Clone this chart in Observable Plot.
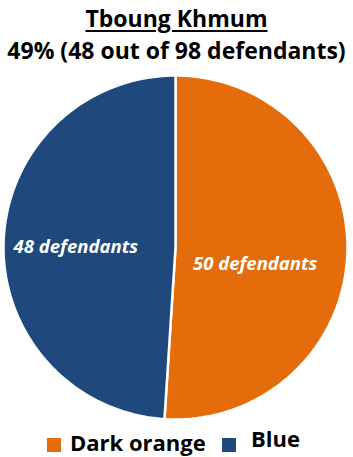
<!DOCTYPE html>
<html><head><meta charset="utf-8">
<script src="https://cdn.jsdelivr.net/npm/d3@7"></script>
<script src="https://cdn.jsdelivr.net/npm/@observablehq/plot@0.6"></script>
<style>
body{margin:0;width:353px;height:457px;overflow:hidden;background:#fff;font-family:"Open Sans",sans-serif;position:relative}
.tl{position:absolute;left:0;width:353px;height:28px;text-align:center;font-weight:bold;font-size:23px;line-height:28px;color:#000;white-space:nowrap}
.tl u{text-decoration-thickness:2px;text-underline-offset:3px}
#chart{position:absolute;top:70px;left:0}
#leg{position:absolute;top:424px;left:0;width:353px;font-weight:bold;font-size:22px;line-height:30px;color:#000}
.sw{position:absolute;width:14px;height:14px}
.lt{position:absolute}
</style></head><body>
<div class="tl" style="top:4px"><u>Tboung Khmum</u></div>
<div class="tl" style="top:36px">49% (48 out of 98 defendants)</div>
<div id="chart"></div>
<div id="leg">
<div class="sw" style="left:47px;top:14px;background:#E46C0A"></div><div class="lt" style="left:70px;top:3px">Dark orange</div>
<div class="sw" style="left:222px;top:14px;background:#1F497D"></div><div class="lt" style="left:251px;top:-1px">Blue</div>
</div>
<script>
const categories = ["Dark orange", "Blue"];
const values = [50, 48];
const labels = ["50 defendants", "48 defendants"];
const colors = ["#E46C0A", "#1F497D"];

const pie = d3.pie().sort(null).value(d => d)(values);
const poly = [];
pie.forEach((p, i) => {
  const n = 120;
  poly.push({cat: categories[i], x: 0, y: 0});
  for (let k = 0; k <= n; k++) {
    const a = p.startAngle + (p.endAngle - p.startAngle) * k / n;
    poly.push({cat: categories[i], x: Math.sin(a), y: Math.cos(a)});
  }
  poly.push({cat: categories[i], x: 0, y: 0});
});
const lr = [0.47, 0.58];
const la = [8, 0];
const lab = pie.map((p, i) => {
  const a = (p.startAngle + p.endAngle) / 2 + la[i] * Math.PI / 180;
  return {text: labels[i], x: lr[i] * Math.sin(a), y: lr[i] * Math.cos(a)};
});
const R = 172;
const W = 353, H = 354;
const chart = Plot.plot({
  width: W, height: H,
  marginLeft: 0, marginRight: 3, marginTop: 0, marginBottom: 0,
  x: {domain: [-175 / R, 175 / R], axis: null},
  y: {domain: [-177 / R, 177 / R], axis: null},
  color: {domain: categories, range: colors},
  marks: [
    Plot.line(poly, {x: "x", y: "y", z: "cat", fill: "cat", stroke: "white", strokeWidth: 2.5, curve: "linear"}),
    Plot.text(lab, {x: "x", y: "y", text: "text", fill: "white", fontSize: 18.5, fontWeight: "bold", fontStyle: "italic", fontFamily: "'Open Sans', sans-serif", dy: 3})
  ]
});
document.getElementById("chart").append(chart);
</script>
</body></html>
